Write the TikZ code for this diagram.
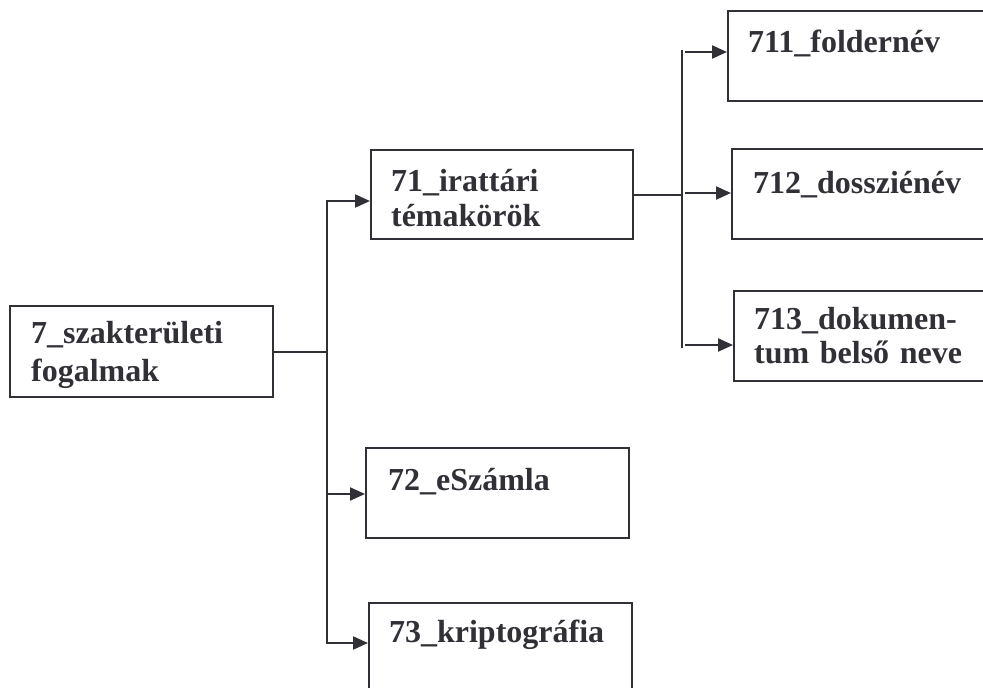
\documentclass[tikz,border=0pt]{standalone}
\usepackage{fontspec}
\setmainfont{Liberation Serif}
\usetikzlibrary{arrows.meta, calc}
\definecolor{ink}{RGB}{48,48,54}

\begin{document}
\begin{tikzpicture}[x=1pt, y=-1pt, color=ink, line width=2.2pt,
        box/.style={draw, inner sep=0pt, anchor=north west},
        lbl/.style={font=\fontsize{32}{35}\selectfont\bfseries, text width=300pt, align=left, inner sep=0pt, anchor=base west},
        arr/.style={-{Triangle[length=15pt, width=13pt]}}]
    \useasboundingbox (0,0) rectangle (983,688);
    \clip (0,0) rectangle (983,688);
    % boxes
    \node[box, minimum width=263, minimum height=91] (szak) at (9,305) {};
    \node[box, minimum width=262, minimum height=89] (irat) at (370,149) {};
    \node[box, minimum width=263, minimum height=90] (szamla) at (365,447) {};
    \node[box, minimum width=263, minimum height=100] (kripto) at (368,602) {};
    \node[box, minimum width=280, minimum height=90] (folder) at (727,10) {};
    \node[box, minimum width=280, minimum height=90] (dosszie) at (731,148) {};
    \node[box, minimum width=280, minimum height=90] (dokum) at (733,290) {};
    % texts
    \node[lbl, font=\fontsize{32}{38}\selectfont\bfseries] (szak-t) at (30,343) {7\_szakterületi\\fogalmak};
    \node[lbl] (irat-t) at (390,191) {71\_irattári\\témakörök};
    \node[lbl] (szamla-t) at (387,490) {72\_eSzámla};
    \node[lbl] (kripto-t) at (388,642) {73\_kriptográfia};
    \node[lbl] (folder-t) at (747,52) {711\_foldernév};
    \node[lbl] (dosszie-t) at (752,193) {712\_dossziénév};
    \node[lbl, font=\fontsize{32}{34}\selectfont\bfseries] (dokum-t) at (753,329) {713\_dokumen-\\tum belső neve};
    % first level
    \coordinate (j1) at (327,201);
    \coordinate (j2) at (327,494);
    \coordinate (j3) at (327,643);
    \draw (szak.east) -- (szak.east -| j1);
    \draw[arr] (j2) -- (j1) -- (j1 -| irat.west);
    \draw[arr] (j2) -- (j3) -- (j3 -| kripto.west);
    \draw[arr] (j2) -- (j2 -| szamla.west);
    % second level
    \coordinate (k1) at (682,52);
    \coordinate (k2) at (682,193);
    \coordinate (k3) at (682,345);
    \draw ([yshift=2]k1) -- ([yshift=-3]k3);
    \draw (irat.east) -- (irat.east -| k2);
    \foreach \k/\n in {k1/folder, k2/dosszie, k3/dokum}
        \draw[arr] ([xshift=3]\k) -- (\k -| \n.west);
\end{tikzpicture}
\end{document}
